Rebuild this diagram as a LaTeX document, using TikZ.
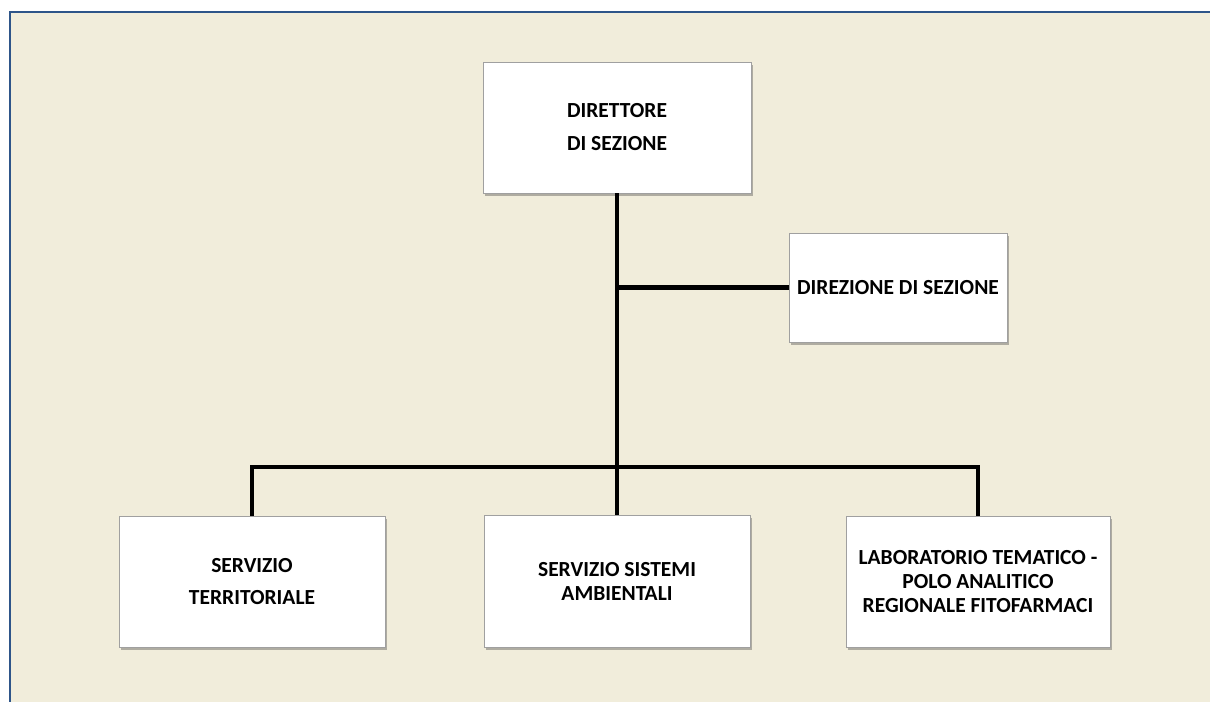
\documentclass[tikz,border=0pt]{standalone}
\usepackage{fontspec}
\setmainfont{Carlito}
\usetikzlibrary{shadows}
\definecolor{bgcream}{HTML}{F1EDDB}
\definecolor{frameblue}{HTML}{2E5589}
\definecolor{boxline}{HTML}{A0A0A0}
\tikzset{
  orgbox/.style={draw=boxline, line width=0.8pt, fill=white, align=center,
    font=\fontsize{21.5}{24}\selectfont\bfseries, inner sep=2pt,
    drop shadow={shadow xshift=1.5pt, shadow yshift=-3pt, opacity=0.4, fill=black!70}},
  conn/.style={line width=4.6pt, black, line join=miter}
}
\begin{document}
\begin{tikzpicture}[x=1pt,y=-1pt]
\useasboundingbox (0,0) rectangle (1210,702);
\fill[white] (0,0) rectangle (1210,702);
\fill[bgcream] (10,12) rectangle (1210,702);
\draw[frameblue, line width=2.6pt] (9,12) -- (1210,12);
\draw[frameblue, line width=2.6pt] (10,11) -- (10,702);

\node[orgbox, minimum width=268pt, minimum height=131pt] (top) at (617,127.5)
  {DIRETTORE\\[9pt]DI SEZIONE};
\node[orgbox, minimum width=218pt, minimum height=109pt] (rt) at (898,287.5)
  {DIREZIONE DI SEZIONE};
\node[orgbox, minimum width=266pt, minimum height=131pt] (bl) at (252,581.5)
  {SERVIZIO\\[8pt]TERRITORIALE};
\node[orgbox, minimum width=266pt, minimum height=132pt] (bm) at (617,581)
  {SERVIZIO SISTEMI\\AMBIENTALI};
\node[orgbox, minimum width=264pt, minimum height=131pt] (br) at (978,581.5)
  {LABORATORIO TEMATICO -\\POLO ANALITICO\\REGIONALE FITOFARMACI};

\coordinate (bus) at (617,467);
\draw[conn] (top.south) -- (bm.north);
\draw[conn] (top.south |- rt.west) -- (rt.west);
\draw[conn] (bl.north) |- (bus) -| (br.north);
\end{tikzpicture}
\end{document}
